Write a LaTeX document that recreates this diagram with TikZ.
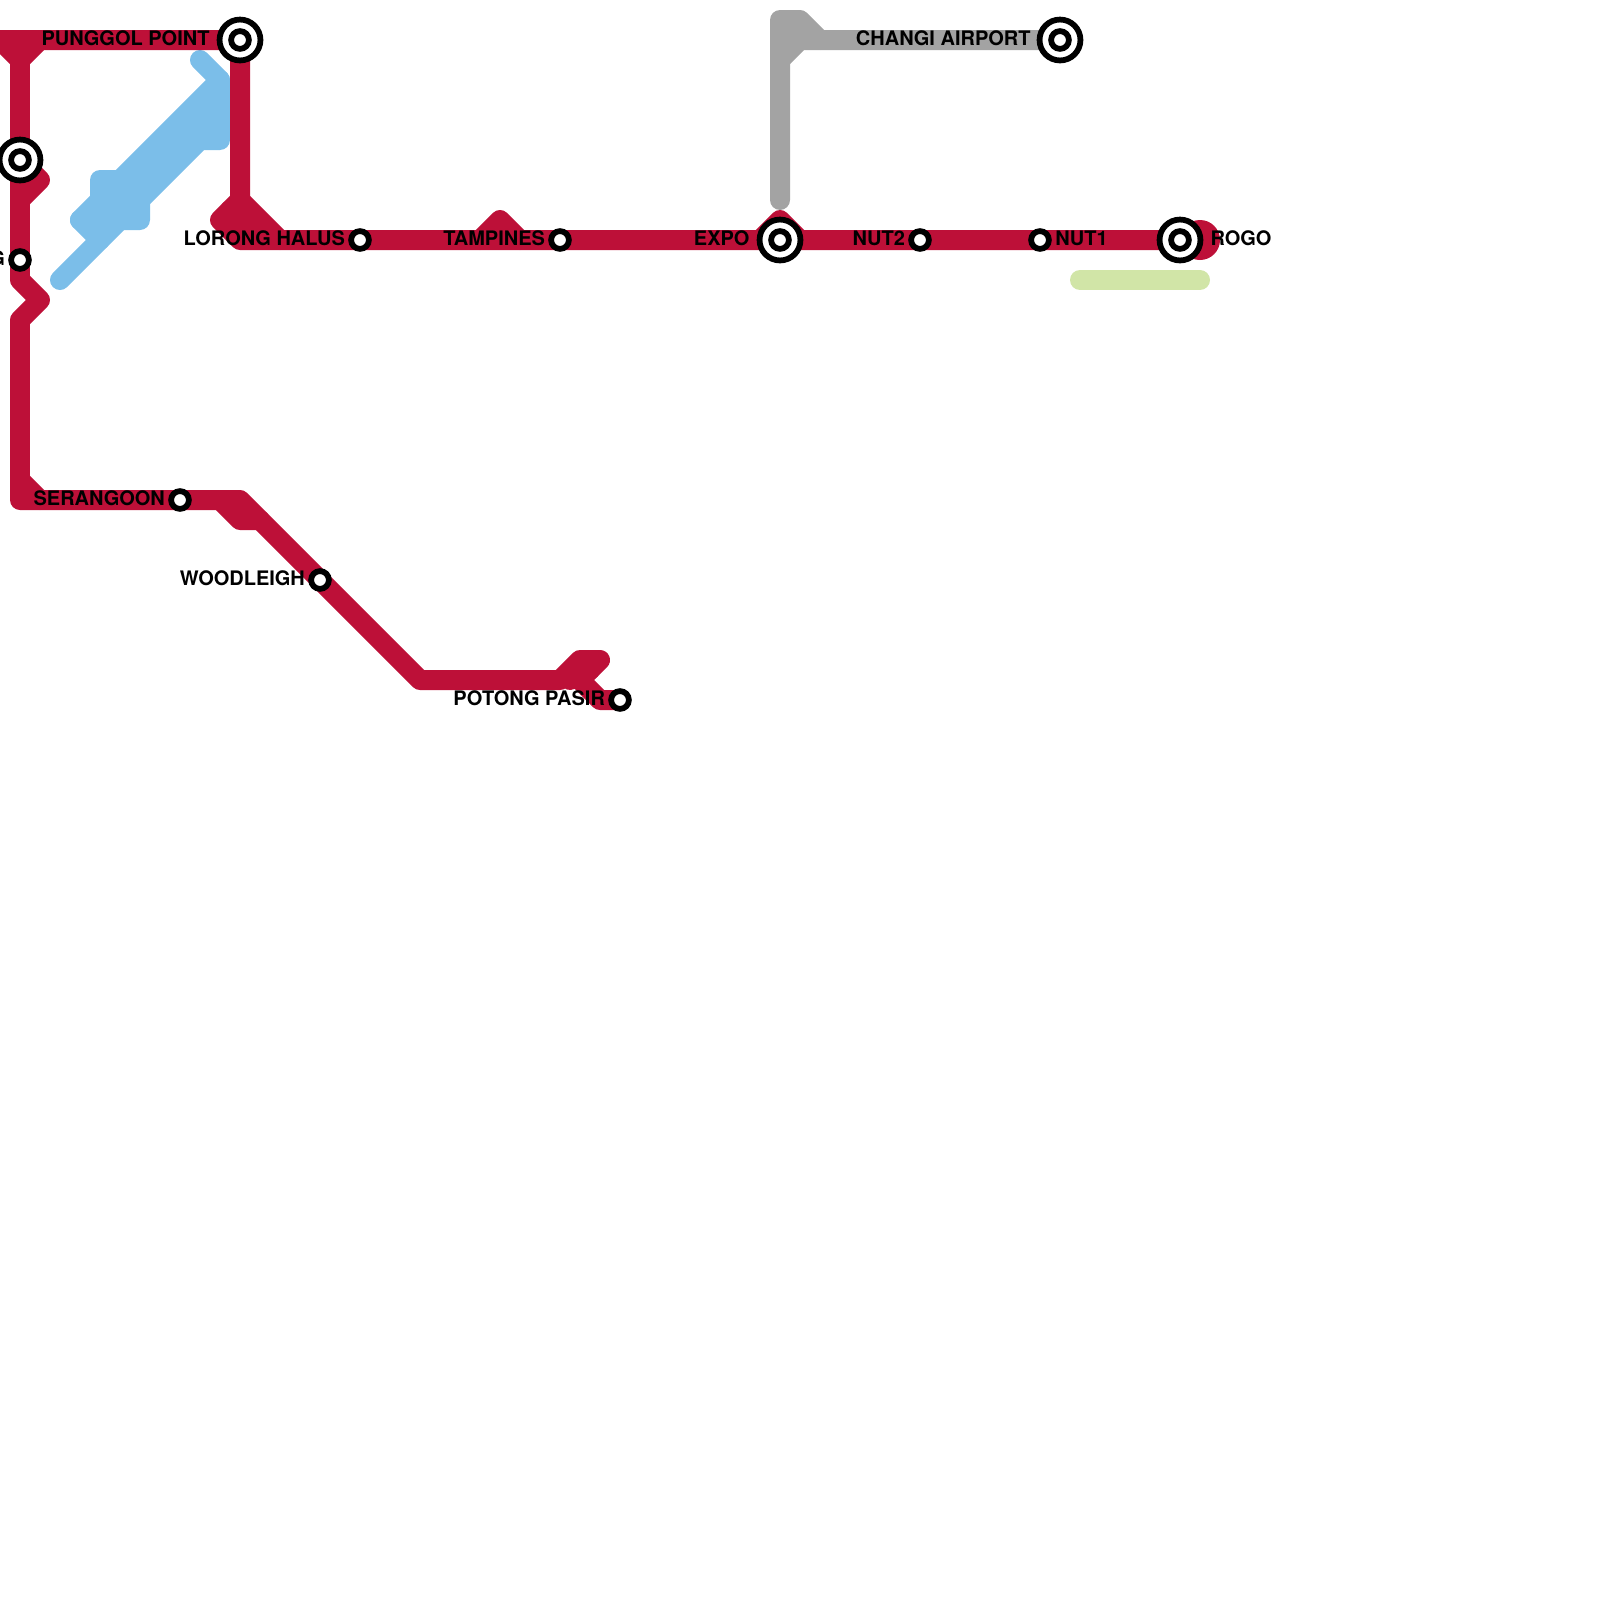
\documentclass[tikz,border=0pt]{standalone}
\usepackage{xcolor}
\usepackage{fontspec}
\setmainfont{TeX Gyre Heros}
\usepackage{tikz}
\usetikzlibrary{positioning,backgrounds}
\definecolor{redline}{HTML}{BD1038}
\definecolor{blueline}{HTML}{7BBEE9}
\definecolor{greyline}{HTML}{A3A3A3}
\definecolor{greenline}{HTML}{D1E5A7}

\begin{document}
\begin{tikzpicture}[
    x=0.05cm,y=-0.05cm,
    stn/.style={circle,draw=black,fill=white,line width=8.2pt,minimum size=25.3pt,inner sep=0pt},
    hub/.style={circle,draw=black,fill=white,line width=8.2pt,minimum size=58.2pt,inner sep=0pt,
      path picture={\draw[black,line width=8.2pt] (path picture bounding box.center) circle (12.65pt);}},
    lbl/.style={font=\fontsize{28.45}{32}\selectfont\bfseries,text=black,inner sep=0pt,text height=20.5pt,text depth=0pt,yshift=2.2pt},
    route/.style={line width=28.45pt,line cap=round,line join=round},
    red/.style={route,draw=redline},
    blue/.style={route,draw=blueline},
    grey/.style={route,draw=greyline},
    green/.style={route,draw=greenline}
  ]
    \useasboundingbox (0,0) rectangle (1600,1600);

    \node[hub] (punggol) at (240,40) {};
    \node[hub] (westhub) at (20,160) {};
    \node[hub] (expo) at (780,240) {};
    \node[hub] (changi) at (1060,40) {};
    \node[hub] (rogo) at (1180,240) {};
    \node[stn] (westg) at (20,260) {};
    \node[stn] (lorong) at (360,240) {};
    \node[stn] (tampines) at (560,240) {};
    \node[stn] (nut2) at (920,240) {};
    \node[stn] (nut1) at (1040,240) {};
    \node[stn] (serangoon) at (180,500) {};
    \node[stn] (woodleigh) at (320,580) {};
    \node[stn] (potong) at (620,700) {};

    \node[lbl,left=10pt of punggol] (punggoltxt) {PUNGGOL POINT};
    \node[lbl,left=10pt of expo] (expotxt) {EXPO};
    \node[lbl,left=8.5pt of changi] (changitxt) {CHANGI AIRPORT};
    \node[lbl,right=10pt of rogo] (rogotxt) {ROGO};
    \node[lbl,left=4.5pt of westg] (westgtxt) {G};
    \node[lbl,left=4.5pt of lorong] (lorongtxt) {LORONG HALUS};
    \node[lbl,left=4.5pt of tampines] (tampinestxt) {TAMPINES};
    \node[lbl,left=4.5pt of nut2] (nut2txt) {NUT2};
    \node[lbl,right=5pt of nut1] (nut1txt) {NUT1};
    \node[lbl,left=4.5pt of serangoon] (serangoontxt) {SERANGOON};
    \node[lbl,left=4.5pt of woodleigh] (woodleightxt) {WOODLEIGH};
    \node[lbl,left=4.5pt of potong] (potongtxt) {POTONG PASIR};

    \begin{pgfonlayer}{background}
    % blue
    \draw[blue] (200,60) -- (220,80) -- (100,200) -- (100,180) -- (120,180);
    \draw[blue] (220,80) -- (220,140) -- (200,140) -- (60,280);
    \draw[blue] (220,100) -- (100,220);
    \draw[blue] (220,120) -- (200,140);
    \draw[blue] (100,240) -- (80,220) -- (140,220) -- (140,200);
    \draw[blue] (100,200) -- (80,220);
    % red
    \draw[red] (0,40) -- (punggol.center) -- (240,200) -- (220,220) -- (240,240) -- (lorong.center)
      -- (tampines.center) -- (expo.center) -- (nut2.center) -- (nut1.center) -- (rogo.center) -- (1200,240);
    \draw[red] (240,200) -- (280,240);
    \draw[red] (230,210) -- (250,230);
    \draw[red] (480,240) -- (500,220) -- (520,240);
    \draw[red] (760,240) -- (780,220) -- (800,240);
    \fill[redline] (rogo.center) ++(20,0) circle (20);
    \draw[red] (0,40) -- (20,60) -- (40,40);
    \draw[red] (20,60) -- (westhub.center) -- (20,200);
    \draw[red] (westhub.center) -- (40,180) -- (20,200) -- (westg.center) -- (20,280) -- (40,300)
      -- (20,320) -- (20,500) -- (serangoon.center) -- (240,500) -- (woodleigh.center) -- (420,680)
      -- (560,680) -- (580,660) -- (600,660) -- (580,680) -- (600,700) -- (potong.center);
    \draw[red] (20,480) -- (40,500);
    \draw[red] (220,500) -- (240,520) -- (260,520);
    \draw[red] (570,680) -- (590,670);
    % grey and green
    \draw[grey] (expo.center) ++(0,-40) -- (780,20) -- (800,20) -- (820,40) -- (changi.center);
    \draw[grey] (780,60) -- (800,40) -- (820,40);
    \draw[grey] (780,40) -- (820,40);
    \draw[green] (1080,280) -- (1200,280);
    \end{pgfonlayer}
  \end{tikzpicture}
\end{document}
